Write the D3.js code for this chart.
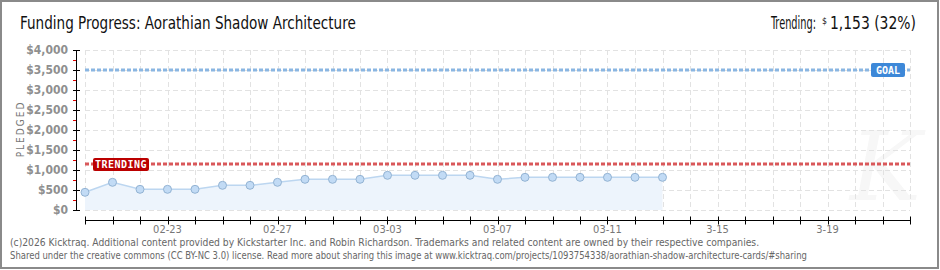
<!DOCTYPE html>
<html><head><meta charset="utf-8">
<script src="https://cdn.jsdelivr.net/npm/d3@7/dist/d3.min.js"></script>
<style>
html,body{margin:0;padding:0;background:#fff;}
svg{display:block;}
text{font-family:"Liberation Sans Narrow","DejaVu Sans Condensed","Liberation Sans",sans-serif;}
</style></head>
<body>
<svg id="chart" width="940" height="270"></svg>
<script>
// ---- data ----
const dates = ["2026-02-20","2026-02-21","2026-02-22","2026-02-23","2026-02-24","2026-02-25","2026-02-26","2026-02-27","2026-02-28","2026-03-01","2026-03-02","2026-03-03","2026-03-04","2026-03-05","2026-03-06","2026-03-07","2026-03-08","2026-03-09","2026-03-10","2026-03-11","2026-03-12","2026-03-13"];
const pledged = [442,692,517,517,517,617,617,692,767,767,767,867,867,867,867,767,817,817,817,817,817,817];
const goal = 3500;
const trending = 1153;
const trendingPct = "32%";
const yTicks = [0,500,1000,1500,2000,2500,3000,3500,4000];
const xLabelDates = ["2026-02-23","2026-02-27","2026-03-03","2026-03-07","2026-03-11","2026-03-15","2026-03-19"];
const xLabelText = ["02-23","02-27","03-03","03-07","03-11","3-15","3-19"];
const xDomain = ["2026-02-20","2026-03-22"];
const titleText = "Funding Progress: Aorathian Shadow Architecture";
const footer1 = "(c)2026 Kicktraq. Additional content provided by Kickstarter Inc. and Robin Richardson. Trademarks and related content are owned by their respective companies.";
const footer2 = "Shared under the creative commons (CC BY-NC 3.0) license. Read more about sharing this image at www.kicktraq.com/projects/1093754338/aorathian-shadow-architecture-cards/#sharing";

const svg = d3.select("#chart");
const P = d3.utcParse("%Y-%m-%d");
const L = 85, R = 910, T = 50, B = 210;

const x = d3.scaleUtc().domain(xDomain.map(P)).range([L, R]);
const y = d3.scaleLinear().domain([0, 4000]).range([B, T]);

// frame
svg.append("rect").attr("x",1).attr("y",1).attr("width",937).attr("height",267)
  .attr("fill","#fff").attr("stroke","#8a8a8a").attr("stroke-width",2);

// watermark
svg.append("text").attr("x",850).attr("y",200).attr("font-size",95)
  .attr("font-style","italic").attr("fill","#f7f7f7").style("font-family","DejaVu Serif")
  .text("K");

// grid
const days = d3.utcDay.range(x.domain()[0], d3.utcDay.offset(x.domain()[1],1));
const grid = svg.append("g").attr("stroke","#e2e2e2").attr("stroke-dasharray","5 3").attr("stroke-width",1);
grid.selectAll(".v").data(days).join("line")
  .attr("x1",d=>Math.round(x(d))+0.5).attr("x2",d=>Math.round(x(d))+0.5).attr("y1",T).attr("y2",B);
grid.selectAll(".h").data(yTicks).join("line")
  .attr("x1",L).attr("x2",R).attr("y1",d=>Math.round(y(d))+0.5).attr("y2",d=>Math.round(y(d))+0.5);

// area + line
const pts = dates.map((d,i)=>({d:P(d), v:pledged[i]}));
svg.append("path").datum(pts)
  .attr("d", d3.area().x(d=>x(d.d)).y0(y(0)).y1(d=>y(d.v)))
  .attr("fill","#edf4fc");
svg.append("path").datum(pts)
  .attr("d", d3.line().x(d=>x(d.d)).y(d=>y(d.v)))
  .attr("fill","none").attr("stroke","#bcd6f0").attr("stroke-width",1.5);

// goal & trend lines
svg.append("line").attr("x1",L).attr("x2",R).attr("y1",y(goal)).attr("y2",y(goal))
  .attr("stroke","#8ab6e2").attr("stroke-width",3).attr("stroke-dasharray","4 2");
svg.append("line").attr("x1",L).attr("x2",R).attr("y1",y(trending)).attr("y2",y(trending))
  .attr("stroke","#d9585a").attr("stroke-width",3).attr("stroke-dasharray","4 2");

// points
svg.append("g").selectAll("circle").data(pts).join("circle")
  .attr("cx",d=>x(d.d)).attr("cy",d=>y(d.v)).attr("r",4)
  .attr("fill","#c2dbf5").attr("stroke","#93b3d3").attr("stroke-width",1);

// labels on lines
const tg = svg.append("g");
tg.append("rect").attr("x",93).attr("y",y(trending)-6).attr("width",56).attr("height",13).attr("rx",2)
  .attr("fill","#bb0000");
tg.append("text").attr("x",121).attr("y",y(trending)+4).attr("text-anchor","middle")
  .attr("font-size",10).attr("font-weight","bold").attr("fill","#fff").attr("letter-spacing",0.5)
  .style("font-family","DejaVu Sans Mono").text("TRENDING");
const gg = svg.append("g");
gg.append("rect").attr("x",871).attr("y",y(goal)-7).attr("width",34).attr("height",14).attr("rx",2)
  .attr("fill","#3d88d8");
gg.append("text").attr("x",888).attr("y",y(goal)+4).attr("text-anchor","middle")
  .attr("font-size",10).attr("font-weight","bold").attr("fill","#fff")
  .style("font-family","DejaVu Sans Mono").text("GOAL");

// y axis
svg.append("line").attr("x1",76.5).attr("x2",76.5).attr("y1",T).attr("y2",B+1).attr("stroke","#000");
const minor = d3.range(250,4000,500);
svg.append("g").selectAll("line").data(minor).join("line")
  .attr("x1",73).attr("x2",76).attr("y1",d=>Math.round(y(d))+0.5).attr("y2",d=>Math.round(y(d))+0.5)
  .attr("stroke","#e00000");
svg.append("g").selectAll("line").data(yTicks).join("line")
  .attr("x1",73).attr("x2",80).attr("y1",d=>Math.round(y(d))+0.5).attr("y2",d=>Math.round(y(d))+0.5)
  .attr("stroke","#000");
svg.append("g").selectAll("text").data(yTicks).join("text")
  .attr("x",68).attr("y",d=>y(d)+4).attr("text-anchor","end")
  .attr("font-size",12).attr("font-weight","bold").attr("fill","#8f8f8f")
  .text(d=>"$"+d3.format(",")(d));
svg.append("text").attr("transform","translate(24,129) rotate(-90)").attr("text-anchor","middle")
  .attr("font-size",10).attr("letter-spacing",2).attr("fill","#777").text("PLEDGED");

// x axis
const xa = svg.append("g").attr("transform","translate(0,220.5)");
xa.append("line").attr("x1",L).attr("x2",R+1).attr("stroke","#000");
xa.selectAll(".t").data(days).join("line")
  .attr("x1",d=>Math.round(x(d))+0.5).attr("x2",d=>Math.round(x(d))+0.5).attr("y1",-4).attr("y2",4).attr("stroke","#000");
xa.selectAll("text").data(xLabelDates).join("text")
  .attr("x",d=>x(P(d))).attr("y",12).attr("text-anchor","middle")
  .attr("font-size",11).attr("fill","#777").text((d,i)=>xLabelText[i]);

// helper: horizontally scale a text to a target width (true bbox)
function fitText(g, x0, y0, width, size, str, fill) {
  const grp = g.append("g");
  const t = grp.append("text").attr("x",0).attr("y",0).attr("font-size",size).attr("fill",fill).text(str);
  const w = t.node().getComputedTextLength();
  grp.attr("transform",`translate(${x0},${y0}) scale(${width/w},1)`);
  return grp;
}

// title
fitText(svg, 20, 29, 336, 17, titleText, "#111");
fitText(svg, 771, 29, 45, 17, "Trending:", "#111");
fitText(svg, 822, 24, 5, 9, "$", "#111");
fitText(svg, 830, 29, 86, 17, d3.format(",")(trending)+" ("+trendingPct+")", "#111");

// footer
fitText(svg, 10, 246, 750, 10, footer1, "#666");
fitText(svg, 10, 259, 798, 10, footer2, "#666");
</script>
</body></html>
